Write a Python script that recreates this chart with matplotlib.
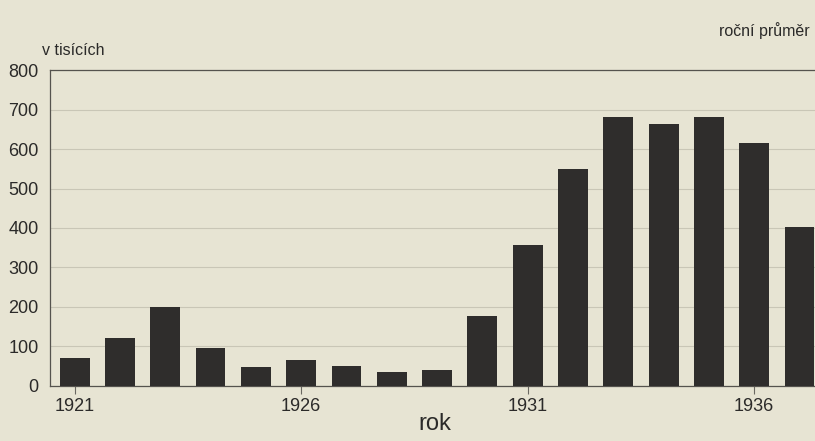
import matplotlib
matplotlib.use("Agg")
import matplotlib.pyplot as plt

years = [1921, 1922, 1923, 1924, 1925, 1926, 1927, 1928, 1929,
         1930, 1931, 1932, 1933, 1934, 1935, 1936, 1937]
values = [71, 122, 200, 95, 49, 66, 51, 34, 39,
          176, 356, 549, 680, 663, 680, 615, 403]
xticks = [1921, 1926, 1931, 1936]
yticks = [0, 100, 200, 300, 400, 500, 600, 700, 800]

plt.rcParams['font.family'] = ['Liberation Sans', 'DejaVu Sans']
bg = '#e7e4d3'
ink = '#2b2a29'

fig = plt.figure(figsize=(8.15, 4.41), dpi=100, facecolor=bg)
ax = fig.add_axes([0.061, 0.125, 0.945, 0.716], facecolor=bg)

ax.bar(years, values, width=0.66, color='#2f2d2c', zorder=3)
ax.set_xlim(1920.45, 1937.45)
ax.set_ylim(0, 800)
ax.set_yticks(yticks)
ax.set_yticklabels([str(v) for v in yticks], fontsize=13, color=ink)
ax.set_xticks(xticks)
ax.set_xticklabels([str(v) for v in xticks], fontsize=13, color=ink)
ax.grid(axis='y', color='#c9c6b6', linewidth=0.8, zorder=0)
ax.tick_params(axis='y', length=0, pad=8)
ax.tick_params(axis='x', direction='out', length=6, width=0.8, color='#6a6862', pad=3)
for s in ['left', 'top', 'bottom']:
    ax.spines[s].set_color('#55534e')
    ax.spines[s].set_linewidth(0.9)
ax.spines['right'].set_visible(False)

ax.set_xlabel('rok', fontsize=17, color=ink, labelpad=-2)
fig.text(0.052, 0.885, 'v tisících', fontsize=11.5, color=ink, ha='left', va='center')
fig.text(0.994, 0.93, 'roční průměr', fontsize=11.5, color=ink, ha='right', va='center')

fig.savefig('out.png', dpi=100, facecolor=bg)
